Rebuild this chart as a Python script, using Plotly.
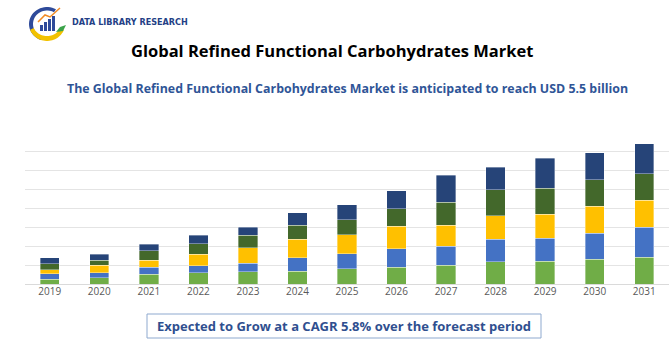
import numpy as np
import plotly.graph_objects as go

years = ["2019", "2020", "2021", "2022", "2023", "2024", "2025",
         "2026", "2027", "2028", "2029", "2030", "2031"]
seg1 = [0.25, 0.33, 0.51, 0.58, 0.65, 0.68, 0.80, 0.89, 0.99, 1.17, 1.20, 1.29, 1.41]
seg2 = [0.30, 0.25, 0.37, 0.38, 0.44, 0.70, 0.79, 0.96, 0.99, 1.19, 1.22, 1.38, 1.57]
seg3 = [0.21, 0.42, 0.38, 0.61, 0.82, 0.98, 0.99, 1.19, 1.12, 1.22, 1.24, 1.41, 1.43]
seg4 = [0.31, 0.26, 0.49, 0.54, 0.65, 0.72, 0.80, 0.91, 1.19, 1.38, 1.38, 1.41, 1.38]
seg5 = [0.30, 0.30, 0.35, 0.45, 0.44, 0.68, 0.80, 0.96, 1.43, 1.19, 1.57, 1.43, 1.59]
series = [("Segment 1", seg1, "#70AD47"), ("Segment 2", seg2, "#4472C4"),
          ("Segment 3", seg3, "#FFC000"), ("Segment 4", seg4, "#43682B"),
          ("Segment 5", seg5, "#264478")]

title = "Global Refined Functional Carbohydrates Market"
subtitle = "The Global Refined Functional Carbohydrates Market is anticipated to reach USD 5.5 billion"
footer = "Expected to Grow at a CAGR 5.8% over the forecast period"
brand = "DATA LIBRARY RESEARCH"

W, H = 670, 350
L, R, T, B = 25, 1, 132, 66
PW, PH = W - L - R, H - T - B


def px(x):
    return (x - L) / PW


def py(y):
    return (H - B - y) / PH


fig = go.Figure()
for name, vals, col in series:
    fig.add_trace(go.Bar(x=years, y=vals, name=name, marker_color=col,
                         marker_line_width=0.6, marker_line_color="rgba(255,255,255,0.6)"))

shapes = []
annotations = []

# footer box
shapes.append(dict(type="rect", xref="paper", yref="paper",
                   x0=px(147), x1=px(541), y0=py(338), y1=py(314),
                   line=dict(color="#8EA9CF", width=1), fillcolor="white"))
annotations.append(dict(text="<b>" + footer + "</b>", xref="paper", yref="paper",
                        x=px(344), y=py(326), showarrow=False,
                        font=dict(family="Open Sans", size=13, color="#2F4F8F"),
                        xanchor="center", yanchor="middle"))

# title + subtitle
annotations.append(dict(text="<b>" + title + "</b>", xref="paper", yref="paper",
                        x=px(332), y=py(50), showarrow=False,
                        font=dict(family="Open Sans", size=16.5, color="#000000"),
                        xanchor="center", yanchor="middle"))
annotations.append(dict(text="<b>" + subtitle + "</b>", xref="paper", yref="paper",
                        x=px(347), y=py(88), showarrow=False,
                        font=dict(family="Open Sans", size=12.4, color="#2F5597"),
                        xanchor="center", yanchor="middle"))

# logo (decorative)
def poly(points):
    d = "M " + " L ".join(f"{px(a):.5f},{py(b):.5f}" for a, b in points)
    return d


cx, cy = 47, 24
t = np.linspace(np.radians(60), np.radians(250), 30)
outer = [(cx + 18 * np.cos(a), cy - 17 * np.sin(a)) for a in t]
inner = [(cx + 14 * np.cos(a), cy - 13.5 * np.sin(a)) for a in t[::-1]]
shapes.append(dict(type="path", xref="paper", yref="paper",
                   path=poly(outer + inner) + " Z", fillcolor="#2E4A9A", line_width=0))
t2 = np.linspace(np.radians(200), np.radians(340), 30)
outer2 = [(cx + 18 * np.cos(a), cy - 17 * np.sin(a)) for a in t2]
inner2 = [(cx + 14 * np.cos(a), cy - 12 * np.sin(a)) for a in t2[::-1]]
shapes.append(dict(type="path", xref="paper", yref="paper",
                   path=poly(outer2 + inner2) + " Z", fillcolor="#F2C200", line_width=0))
for i, h in enumerate([6, 9, 12, 15]):
    x0 = 40 + i * 4
    shapes.append(dict(type="rect", xref="paper", yref="paper",
                       x0=px(x0), x1=px(x0 + 3), y0=py(31), y1=py(31 - h),
                       fillcolor="#2E4A9A", line_width=0))
shapes.append(dict(type="path", xref="paper", yref="paper",
                   path=poly([(38, 22), (45, 15), (50, 17), (60, 8)]),
                   line=dict(color="#F08A24", width=1.5)))
shapes.append(dict(type="path", xref="paper", yref="paper",
                   path=poly([(56, 32), (60, 27), (66, 25), (63, 31)]) + " Z",
                   fillcolor="#3BA34A", line_width=0))
annotations.append(dict(text="<b>" + brand + "</b>", xref="paper", yref="paper",
                        x=px(70), y=py(22), showarrow=False,
                        font=dict(family="DejaVu Sans Condensed, DejaVu Sans", size=9, color="#243F86"),
                        xanchor="left", yanchor="middle"))

fig.update_layout(
    width=W, height=H, barmode="stack", bargap=0.61,
    margin=dict(l=L, r=R, t=T, b=B),
    paper_bgcolor="white", plot_bgcolor="white",
    showlegend=False, shapes=shapes, annotations=annotations,
    font=dict(family="Open Sans"),
)
fig.update_xaxes(type="category", showline=False, ticks="",
                 tickfont=dict(size=10, color="#595959", family="Open Sans"),
                 showgrid=False)
fig.update_yaxes(range=[0, 8], dtick=1, showticklabels=False,
                 gridcolor="#E4E4E4", gridwidth=1, zeroline=True,
                 zerolinecolor="#DADADA", zerolinewidth=1)
fig.write_html("out.html")
